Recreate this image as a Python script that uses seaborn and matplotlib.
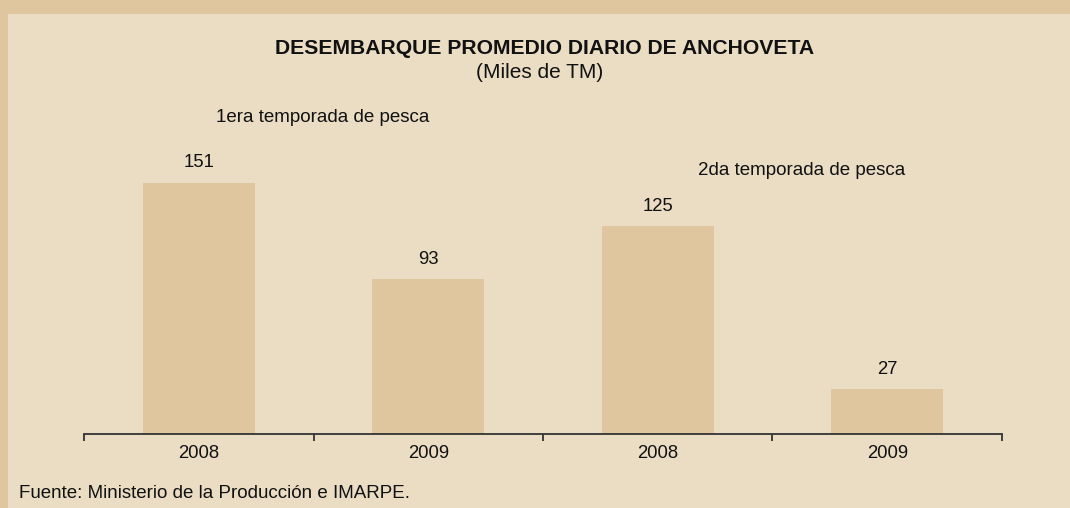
import matplotlib
matplotlib.use("Agg")
import matplotlib.pyplot as plt
import seaborn as sns
import pandas as pd
from matplotlib.patches import Rectangle

# data
years = ["2008", "2009", "2008", "2009"]
landings = [151, 93, 125, 27]

BORDER = "#dfc69e"
INNER = "#ebddc4"
BAR = "#dfc69e"
TXT = "#111111"

sns.set_style("white")
plt.rcParams['font.family'] = ['Liberation Sans', 'DejaVu Sans']

df = pd.DataFrame({"pos": range(len(years)), "year": years, "value": landings})

fig = plt.figure(figsize=(10.7, 5.08), dpi=100, facecolor=BORDER)
# lighter inner panel, border only on top and left
fig.patches.append(Rectangle((8 / 1070, 0), 1, 1 - 14 / 508, transform=fig.transFigure,
                             facecolor=INNER, edgecolor="none", zorder=-1))

ax = fig.add_axes([84 / 1070, 1 - 434 / 508, 918 / 1070, 332.8 / 508])
ax.set_facecolor("none")
sns.barplot(data=df, x="pos", y="value", color=BAR, width=0.488, saturation=1,
            ax=ax, edgecolor="none")
ax.set_xlim(-0.5, 3.5)
ax.set_ylim(0, 200)

for i, v in enumerate(landings):
    ax.annotate(str(v), (i, v), xytext=(0, 14.4), textcoords="offset points",
                ha="center", va="center", fontsize=13.3, color=TXT)

for s in ["top", "right", "left"]:
    ax.spines[s].set_visible(False)
ax.spines["bottom"].set_color("#333333")
ax.spines["bottom"].set_linewidth(1.3)
ax.set_yticks([])
ax.set_xticks(range(len(years)))
ax.set_xticklabels(years, fontsize=13.3, color=TXT)
ax.set_xticks([-0.5, 0.5, 1.5, 2.5, 3.5], minor=True)
ax.tick_params(axis="x", which="both", bottom=True)
ax.tick_params(axis="x", which="major", length=0, pad=8)
ax.tick_params(axis="x", which="minor", length=5, width=1.3, color="#333333", direction="out")
ax.set_xlabel("")
ax.set_ylabel("")

fig.text(545 / 1070, 1 - 48 / 508, "DESEMBARQUE PROMEDIO DIARIO DE ANCHOVETA",
         ha="center", va="center", fontsize=15.2, fontweight="bold", color=TXT)
fig.text(540 / 1070, 1 - 72 / 508, "(Miles de TM)", ha="center", va="center",
         fontsize=15, color=TXT)
fig.text(216 / 1070, 1 - 117 / 508, "1era temporada de pesca", ha="left", va="center",
         fontsize=13.5, color=TXT)
fig.text(697.5 / 1070, 1 - 170 / 508, "2da temporada de pesca", ha="left", va="center",
         fontsize=13.5, color=TXT)
fig.text(19 / 1070, 1 - 493 / 508, "Fuente: Ministerio de la Producción e IMARPE.",
         ha="left", va="center", fontsize=13.5, color=TXT)

fig.savefig("out.png", dpi=100, facecolor=BORDER)
